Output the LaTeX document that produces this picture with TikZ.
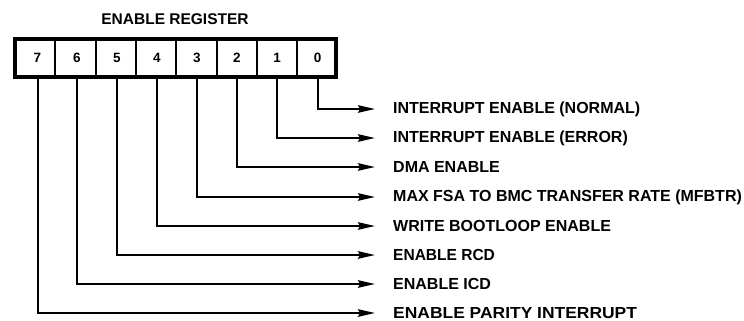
\documentclass[tikz,border=0pt]{standalone}
\usepackage{fontspec}
\setmainfont{Liberation Sans}
\usetikzlibrary{arrows.meta}
\begin{document}
\begin{tikzpicture}[x=1pt,y=-1pt,
  lbl/.style={anchor=west,inner sep=0pt,font=\bfseries\fontsize{16}{18}\selectfont},
  digit/.style={inner sep=0pt,font=\bfseries\fontsize{13.5}{15}\selectfont},
  conn/.style={line width=2pt,-{Stealth[length=17pt,width=7.5pt,inset=2pt]},shorten >=18pt},
  regbox/.style={draw,line width=4.2pt,minimum width=321pt,minimum height=38pt,inner sep=0pt}]
\useasboundingbox (0,0) rectangle (744,321);
\node[font=\bfseries\fontsize{15.5}{18}\selectfont] (title) at (175,19) {ENABLE REGISTER};
\node[regbox] (reg) at (175.5,58) {};
\foreach \x in {55,96,136,176,217,257,297}
  \draw[line width=1.6pt] (\x,39) -- (\x,77);
\foreach \k/\x in {7/37.5,6/77,5/117,4/157,3/197,2/237,1/277,0/317.5}
  \node[digit] (c\k) at (\x,58) {\k};
\foreach \k/\y/\s/\t in {0/109/1/INTERRUPT ENABLE (NORMAL),1/138/1/INTERRUPT ENABLE (ERROR),2/167/1/DMA ENABLE,3/197/1/MAX FSA TO BMC TRANSFER RATE (MFBTR),4/226/1/WRITE BOOTLOOP ENABLE,5/255/0.97/ENABLE RCD,6/284/1/ENABLE ICD,7/313/1.09/ENABLE PARITY INTERRUPT}
{
  \node[lbl] (l\k) at (393,\y) {\scalebox{\s}[1]{\t}};
  \draw[conn] (c\k |- reg.south) |- (l\k.west);
}
\end{tikzpicture}
\end{document}
